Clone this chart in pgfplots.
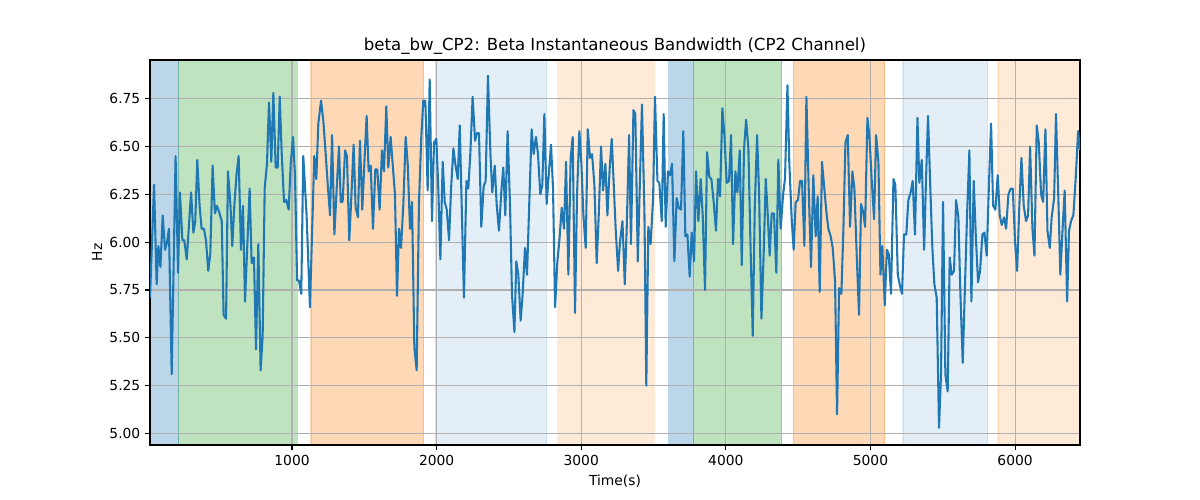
\documentclass[border=0pt]{standalone}
\usepackage{fontspec}
\setmainfont{DejaVu Sans}
\usepackage{pgfplots}
\pgfplotsset{compat=1.18}

\definecolor{tabblue}{HTML}{1F77B4}
\definecolor{tabgreen}{HTML}{2CA02C}
\definecolor{taborange}{HTML}{FF7F0E}
\definecolor{gridgray}{HTML}{B0B0B0}

% one shaded time span: colour, opacity, start, end (kept inside the axis limits)
\newcommand{\tspan}[4]{%
  \addplot[fill=#1, draw=#1, opacity=#2, line width=0.8pt, forget plot,
           on layer=axis background]
    coordinates {(#3,4.94) (#3,6.952) (#4,6.952) (#4,4.94)} -- cycle;}

\begin{document}
\begin{tikzpicture}
\begin{axis}[
    set layers,
    scale only axis,
    width=9.3in,
    height=3.85in,
    at={(0,0)}, anchor=south west,
    xmin=18, xmax=6449,
    ymin=4.94, ymax=6.952,
    font=\fontsize{10}{12}\selectfont,
    title={beta\_bw\_CP2: Beta Instantaneous Bandwidth (CP2 Channel)},
    every axis title shift=0pt,
    title style={font=\fontsize{12}{14}\selectfont, at={(axis description cs:0.5,1.036)}, anchor=center},
    xlabel={Time(s)},
    ylabel={Hz},
    xlabel style={at={(axis description cs:0.5,-0.0935)}, anchor=center},
    ylabel style={at={(axis description cs:-0.057,0.5)}, anchor=center},
    xtick={1000,2000,3000,4000,5000,6000},
    ytick={5,5.25,5.5,5.75,6,6.25,6.5,6.75},
    scaled ticks=false,
    xticklabel style={/pgf/number format/1000 sep={}},
    yticklabel style={/pgf/number format/.cd, fixed, fixed zerofill, precision=2},
    /pgf/number format/assume math mode=true,
    tick pos=left,
    tick align=outside,
    major tick length=3.5pt,
    tick style={black, line width=0.8pt},
    axis line style={line width=0.8pt},
    grid=major,
    grid style={gridgray, line width=0.8pt},
]

\tspan{tabblue}{0.3}{18}{216}
\tspan{tabgreen}{0.3}{216}{1037}
\tspan{taborange}{0.3}{1131}{1912}
\tspan{tabblue}{0.12}{1990}{2762}
\tspan{taborange}{0.16}{2838}{3506}
\tspan{tabblue}{0.3}{3606}{3775}
\tspan{tabgreen}{0.3}{3775}{4385}
\tspan{taborange}{0.3}{4467}{5098}
\tspan{tabblue}{0.12}{5225}{5810}
\tspan{taborange}{0.16}{5882}{6449}

\addplot[tabblue, line width=1.5pt, line join=round, mark=none] table {
x y
18 5.71
46 6.30
64 5.78
76 5.98
90 5.87
106 6.14
122 5.96
136 6.00
149 6.07
168 5.31
195 6.45
212 5.84
225 6.26
242 6.01
255 6.01
272 5.91
302 6.26
318 6.05
331 6.11
345 6.43
361 6.19
375 6.07
391 6.07
405 6.01
421 5.85
435 5.94
451 6.40
467 6.15
481 6.19
495 6.16
514 6.11
527 5.62
544 5.60
557 6.37
574 6.20
587 5.98
601 6.19
617 6.36
631 6.45
647 5.96
661 6.19
675 5.69
707 6.28
721 5.89
737 5.92
751 5.44
767 5.99
783 5.33
797 5.51
811 6.28
827 6.41
841 6.73
857 6.42
871 6.78
887 6.39
901 6.39
915 6.76
929 6.46
945 6.21
961 6.22
977 6.17
991 6.41
1007 6.55
1021 6.34
1035 5.80
1048 5.80
1064 5.73
1078 6.45
1101 6.14
1124 5.66
1154 6.45
1168 6.33
1182 6.62
1201 6.74
1217 6.63
1233 6.46
1249 6.28
1263 6.14
1277 6.56
1293 6.04
1309 6.28
1325 6.50
1337 6.21
1350 6.21
1367 6.48
1380 6.45
1396 6.01
1413 6.28
1426 6.51
1440 6.18
1456 6.13
1470 6.53
1486 6.17
1502 6.44
1516 6.66
1530 6.37
1544 6.40
1560 6.07
1576 6.38
1590 6.38
1606 6.17
1622 6.48
1636 6.37
1652 6.71
1666 6.39
1682 6.55
1696 6.41
1712 6.25
1726 5.72
1740 6.07
1754 5.97
1770 6.20
1786 6.55
1800 6.41
1816 6.07
1830 6.21
1846 5.45
1862 5.33
1878 6.21
1894 6.55
1908 6.74
1922 6.74
1938 6.27
1952 6.85
1968 6.11
1982 6.52
1998 6.54
2012 6.27
2026 5.91
2042 6.42
2056 6.21
2070 6.17
2086 6.01
2100 6.28
2116 6.49
2129 6.41
2146 6.33
2160 6.61
2189 5.71
2206 6.32
2219 6.28
2233 6.46
2249 6.76
2266 6.53
2279 6.57
2293 6.57
2309 6.08
2325 6.29
2339 6.32
2355 6.87
2372 6.46
2385 6.26
2402 6.40
2415 6.20
2431 6.06
2448 6.27
2461 6.39
2475 6.14
2491 6.58
2508 6.18
2521 5.73
2538 5.53
2551 5.90
2565 5.83
2581 5.59
2595 5.73
2611 5.97
2625 5.83
2641 6.21
2657 6.59
2671 6.46
2687 6.55
2701 6.46
2717 6.25
2731 6.30
2745 6.67
2761 6.20
2775 6.35
2791 6.51
2805 6.28
2819 5.66
2835 5.90
2849 6.01
2865 6.18
2881 6.07
2895 6.42
2911 5.83
2927 6.44
2941 6.55
2957 5.63
2971 6.25
2987 6.58
3001 6.41
3015 6.14
3031 5.97
3045 6.59
3061 6.44
3075 6.46
3091 6.30
3107 5.89
3121 6.14
3137 6.50
3151 6.27
3167 6.41
3181 6.14
3197 6.39
3211 6.54
3238 6.07
3255 5.85
3268 6.00
3285 6.11
3301 5.78
3314 6.06
3331 6.56
3344 5.99
3361 6.69
3374 6.67
3391 5.90
3420 6.72
3437 6.16
3450 5.25
3464 6.08
3480 5.99
3497 6.23
3510 6.76
3527 6.32
3540 6.31
3557 6.11
3570 6.67
3584 6.08
3600 6.37
3614 6.35
3628 6.41
3644 5.90
3660 6.23
3674 6.18
3690 6.17
3706 6.58
3720 6.03
3734 6.04
3750 5.82
3764 6.05
3780 5.90
3794 6.37
3810 6.11
3826 6.33
3840 6.14
3856 5.75
3870 6.47
3886 6.34
3900 6.33
3916 6.21
3932 6.06
3946 6.33
3960 6.24
3976 6.70
3990 6.56
4006 6.31
4022 6.32
4036 6.56
4050 5.99
4066 6.37
4080 6.26
4096 6.48
4110 5.88
4126 6.49
4140 6.64
4156 6.49
4170 6.00
4186 5.51
4200 6.18
4216 6.56
4230 6.25
4246 5.60
4260 5.90
4276 6.33
4290 6.14
4303 5.93
4317 6.15
4333 6.15
4349 5.84
4363 6.43
4379 6.07
4396 6.25
4409 6.33
4426 6.82
4439 6.41
4456 6.11
4469 5.96
4483 6.21
4499 6.22
4513 6.32
4527 6.32
4543 5.98
4557 6.76
4573 6.28
4589 5.87
4605 6.35
4621 6.03
4635 6.24
4649 5.74
4665 6.42
4681 6.28
4695 6.16
4709 6.07
4725 6.03
4739 5.97
4755 5.80
4769 5.10
4783 5.76
4799 5.73
4813 6.07
4827 6.52
4843 6.56
4859 6.08
4875 6.37
4889 6.28
4905 5.93
4921 5.62
4935 6.20
4949 6.16
4963 6.08
4979 6.65
4993 6.55
5009 6.32
5025 6.12
5039 6.56
5055 6.42
5069 5.83
5082 5.98
5099 5.67
5113 5.96
5126 5.94
5142 5.73
5159 6.33
5172 6.30
5189 5.83
5202 5.78
5218 5.73
5232 6.04
5248 6.04
5262 6.22
5278 6.26
5292 6.32
5308 6.04
5325 6.65
5338 6.31
5355 6.43
5371 5.96
5384 6.32
5398 6.66
5414 6.28
5428 5.97
5442 5.78
5458 5.71
5474 5.03
5488 5.31
5502 6.21
5518 5.31
5534 5.22
5548 5.92
5562 5.83
5578 5.85
5592 6.22
5608 6.13
5622 5.73
5638 5.37
5652 5.73
5668 6.14
5684 6.48
5698 5.69
5714 6.32
5728 6.04
5744 5.79
5758 5.85
5774 6.04
5788 6.05
5804 5.93
5818 6.27
5834 6.62
5848 6.19
5864 6.17
5880 6.35
5894 6.14
5908 6.09
5924 6.13
5938 6.07
5954 6.25
5970 6.28
5984 6.28
6000 6.00
6014 5.85
6030 6.20
6044 6.44
6060 6.19
6076 6.11
6090 6.14
6104 6.50
6120 6.07
6134 5.93
6150 6.61
6164 6.52
6180 6.25
6194 6.21
6210 6.59
6224 6.06
6240 5.97
6253 6.13
6270 6.23
6283 6.67
6300 6.21
6313 5.83
6330 6.09
6343 6.27
6360 5.69
6373 6.06
6387 6.11
6403 6.14
6419 6.33
6436 6.58
6449 6.48
};

\end{axis}
\path (-1.5in,-0.55in) rectangle (10.5in,4.45in);
\end{tikzpicture}
\end{document}
